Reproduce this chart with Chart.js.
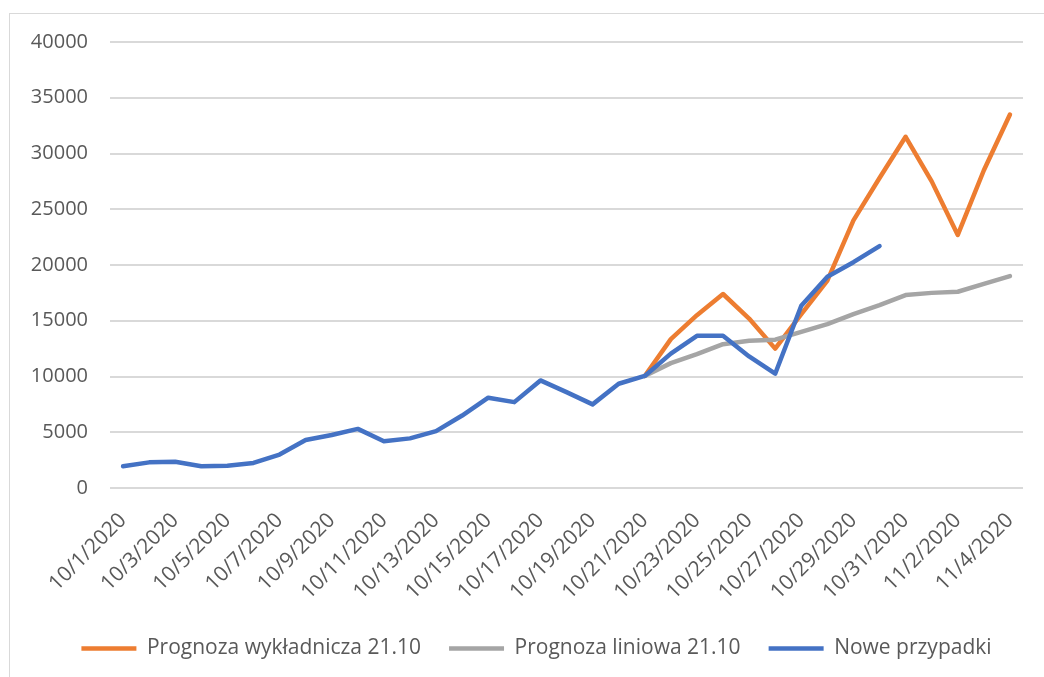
<!DOCTYPE html>
<html>
<head>
<meta charset="utf-8">
<script src="https://cdn.jsdelivr.net/npm/chart.js@4/dist/chart.umd.min.js"></script>
<style>
  html, body { margin: 0; padding: 0; background: #fff; }
  #wrap { position: absolute; left: 0; top: 0; width: 1044px; height: 677px; }
  #frame { position: absolute; left: 9px; top: 13px; width: 1100px; height: 700px; border: 1px solid #d9d9d9; }
</style>
</head>
<body>
<div id="wrap">
  <div id="frame"></div>
  <canvas id="chart" width="1044" height="677"></canvas>
</div>
<script>
let dates = ['10/1/2020', '10/2/2020', '10/3/2020', '10/4/2020', '10/5/2020', '10/6/2020', '10/7/2020',
  '10/8/2020', '10/9/2020', '10/10/2020', '10/11/2020', '10/12/2020', '10/13/2020', '10/14/2020',
  '10/15/2020', '10/16/2020', '10/17/2020', '10/18/2020', '10/19/2020', '10/20/2020', '10/21/2020',
  '10/22/2020', '10/23/2020', '10/24/2020', '10/25/2020', '10/26/2020', '10/27/2020', '10/28/2020',
  '10/29/2020', '10/30/2020', '10/31/2020', '11/1/2020', '11/2/2020', '11/3/2020', '11/4/2020'];

// new cases 10/1 - 10/30
let newCases = [1950, 2300, 2350, 1950, 2000, 2250, 3000, 4300, 4750, 5300, 4200, 4450, 5100, 6500,
  8100, 7700, 9650, 8600, 7500, 9350, 10050, 12050, 13650, 13650, 11800, 10250, 16350, 18950, 20250, 21700];

// forecasts from 10/21 onwards
let forecastStart = 20;
let expForecast = [10050, 13350, 15500, 17400, 15200, 12500, 15600, 18600, 24000, 27800, 31500, 27500, 22700, 28500, 33500];
let linForecast = [10050, 11200, 12000, 12900, 13200, 13300, 14000, 14700, 15600, 16400, 17300, 17500, 17600, 18300, 19000];

let seriesNames = ['Prognoza wykładnicza 21.10', 'Prognoza liniowa 21.10', 'Nowe przypadki'];
let seriesColors = ['#ED7D31', '#A5A5A5', '#4472C4'];

let yTicks = [0, 5000, 10000, 15000, 20000, 25000, 30000, 35000, 40000];

function padForecast(values) {
    let out = new Array(forecastStart).fill(null);
    return out.concat(values);
}

let font = { family: "'Open Sans', sans-serif", size: 20 };
let xFont = { family: "'Open Sans', sans-serif", size: 21 };
let legendFont = { family: "'Open Sans', sans-serif", size: 21 };

function makeSet(i, data, order) {
    return {
        label: seriesNames[i],
        data: data,
        borderColor: seriesColors[i],
        backgroundColor: seriesColors[i],
        borderWidth: 4.5,
        pointRadius: 0,
        tension: 0,
        borderCapStyle: 'round',
        borderJoinStyle: 'round',
        order: order
    };
}

// nudge the legend a bit to the right, like the original
let legendShift = {
    id: 'legendShift',
    afterLayout: function (chart) {
        chart.legend.left += 11;
        chart.legend.right += 11;
    }
};

let ctx = document.getElementById('chart').getContext('2d');
new Chart(ctx, {
    type: 'line',
    data: {
        labels: dates,
        datasets: [
            makeSet(0, padForecast(expForecast), 3),
            makeSet(1, padForecast(linForecast), 2),
            makeSet(2, newCases, 1)
        ]
    },
    plugins: [legendShift],
    options: {
        responsive: false,
        animation: false,
        layout: { padding: { top: 42, left: 28, right: 21, bottom: 8 } },
        plugins: {
            tooltip: { enabled: false },
            legend: {
                position: 'bottom',
                labels: {
                    font: legendFont,
                    color: '#595959',
                    usePointStyle: true,
                    pointStyle: 'line',
                    pointStyleWidth: 55,
                    padding: 28,
                    sort: (a, b) => a.datasetIndex - b.datasetIndex
                }
            }
        },
        scales: {
            x: {
                offset: true,
                grid: { display: false, drawTicks: false },
                border: { display: false },
                afterFit: function (scale) {
                    scale.paddingLeft = 0;
                    scale.paddingRight = 0;
                    scale.height = 122;
                },
                ticks: {
                    font: xFont,
                    color: '#595959',
                    autoSkip: false,
                    minRotation: 45,
                    maxRotation: 45,
                    padding: 20,
                    callback: function (value, index) {
                        return index % 2 == 0 ? dates[index] : '';
                    }
                }
            },
            y: {
                min: 0,
                max: 40000,
                afterBuildTicks: function (axis) {
                    axis.ticks = yTicks.map(v => ({ value: v }));
                },
                afterFit: function (scale) {
                    scale.width = 82;
                },
                grid: { color: '#d9d9d9', lineWidth: 2, drawTicks: false },
                border: { display: false },
                ticks: {
                    font: font,
                    color: '#595959',
                    padding: 22,
                    callback: function (value) {
                        return String(value);
                    }
                }
            }
        }
    }
});
</script>
</body>
</html>
